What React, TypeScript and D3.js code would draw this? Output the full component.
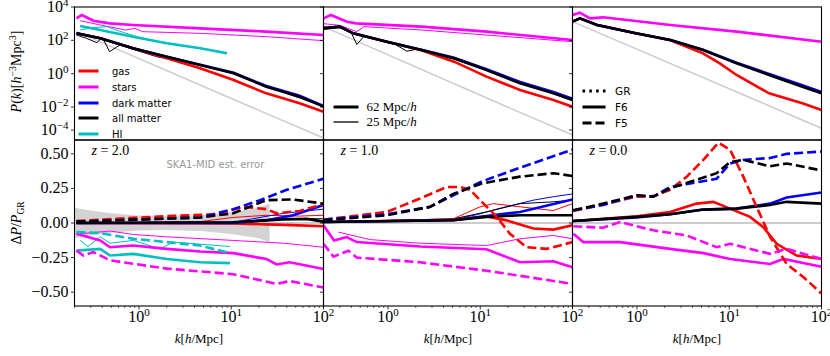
import React from 'react';
import * as d3 from 'd3';

// ---- layout ----
const W = 830;
const H = 356;
const panelLefts = [74.5, 323.5, 572.5];
const panelW = 249;
const topY = 7;
const midY = 140;
const botY = 306;

const RED = '#ff0000';
const MAG = '#ff00ff';
const BLUE = '#0000ff';
const BLACK = '#000000';
const CYAN = '#00bfbf';
const GREY = '#cccccc';

const serif = "'Liberation Serif', 'DejaVu Serif', serif";
const sans = "'DejaVu Sans', sans-serif";

// ---- top row: log10 P(k), pairs [k, log10 P] ----
const gasTopZ2 = [[0.21, 2.42], [0.38, 2.12], [0.86, 1.52], [2.0, 0.92], [4.6, 0.32], [10.6, -0.38], [24, -1.18], [55, -1.78], [100, -2.41]];
const dmTopZ2 = [[0.21, 2.42], [0.38, 2.12], [0.86, 1.52], [2.0, 1.02], [4.6, 0.54], [10.6, 0.05], [24, -0.74], [55, -1.33], [100, -1.93]];
const allTopZ2 = [[0.21, 2.42], [0.38, 2.12], [0.86, 1.52], [2.0, 1.02], [4.6, 0.52], [10.6, 0.02], [24, -0.78], [55, -1.38], [100, -1.98]];
const starsTopZ2 = [[0.21, 3.32], [0.24, 3.52], [0.32, 3.18], [0.48, 3.02], [0.86, 2.92], [4.6, 2.72], [24, 2.52], [100, 2.32]];
const hiTopZ2 = [[0.23, 2.86], [0.38, 2.62], [0.86, 2.22], [2.0, 1.82], [4.6, 1.52], [9.0, 1.22]];
const linTopZ2 = [[0.21, 2.52], [16.4, -2.0], [100, -4.7]];
const starsThinZ2 = [[0.23, 3.18], [0.38, 2.92], [0.72, 2.62], [0.9, 2.72], [1.1, 2.52], [4.6, 2.42], [24, 2.22], [100, 1.98]];
const allThinZ2 = [[0.21, 2.32], [0.27, 2.12], [0.35, 1.86], [0.4, 2.18], [0.48, 1.32], [0.62, 1.72], [0.86, 1.46], [1.6, 1.0], [3, 0.78], [5, 0.48], [10, 0.04], [24, -0.76], [100, -1.96]];
const hiThinZ2 = [[0.23, 2.62], [0.3, 2.75], [0.45, 2.82], [0.7, 2.45], [1.0, 2.18], [2.0, 1.84], [4.6, 1.53], [9, 1.23]];

const gasTopZ1 = [[0.2, 2.72], [0.3, 2.82], [0.42, 2.42], [0.97, 1.92], [2.3, 1.40], [5.2, 0.72], [11.7, -0.18], [27, -0.98], [62, -1.58], [100, -1.98]];
const dmTopZ1 = [[0.2, 2.72], [0.3, 2.82], [0.42, 2.42], [0.97, 1.92], [2.3, 1.44], [5.2, 0.95], [11.7, 0.27], [27, -0.5], [62, -1.1], [100, -1.5]];
const allTopZ1 = [[0.2, 2.72], [0.3, 2.82], [0.42, 2.42], [0.97, 1.92], [2.3, 1.42], [5.2, 0.92], [11.7, 0.22], [27, -0.58], [62, -1.18], [100, -1.58]];
const starsTopZ1 = [[0.2, 3.32], [0.24, 3.52], [0.36, 3.12], [0.45, 3.02], [2.3, 2.82], [11.7, 2.52], [100, 2.02]];
const linTopZ1 = [[0.2, 2.82], [19.7, -2.0], [100, -4.43]];
const starsThinZ1 = [[0.2, 3.0], [0.3, 2.9], [0.46, 2.52], [0.55, 2.82], [2.3, 2.62], [100, 1.92]];
const allThinZ1 = [[0.2, 2.8], [0.3, 2.75], [0.4, 2.45], [0.46, 1.75], [0.55, 2.25], [0.8, 2.0], [1.2, 1.75], [1.6, 1.35], [2.2, 1.5], [3, 1.2], [5, 0.9], [11.7, 0.2], [100, -1.6]];

const gasTopZ0 = [[0.2, 3.12], [0.24, 3.32], [0.37, 2.92], [0.97, 2.42], [2.3, 2.0], [5.2, 1.22], [7.9, 0.62], [12, -0.08], [27, -1.18], [62, -1.78], [100, -2.26]];
const dmTopZ0 = [[0.2, 3.12], [0.24, 3.32], [0.37, 2.92], [0.97, 2.42], [2.3, 2.02], [5.2, 1.44], [12, 0.66], [27, -0.02], [62, -0.7], [100, -1.1]];
const allTopZ0 = [[0.2, 3.12], [0.24, 3.32], [0.37, 2.92], [0.97, 2.42], [2.3, 2.02], [5.2, 1.42], [12, 0.62], [27, -0.08], [62, -0.78], [100, -1.18]];
const starsTopZ0 = [[0.2, 3.52], [0.24, 3.66], [0.31, 3.32], [0.43, 3.38], [2.3, 2.92], [12, 2.52], [100, 1.92]];
const linTopZ0 = [[0.2, 3.12], [29, -2.0], [100, -3.85]];

// ---- bottom row: ΔP/P_GR, pairs [k, ratio] ----
const ska1Error = [[0.2, 0.11], [0.3, 0.09], [0.5, 0.07], [1, 0.055], [2, 0.05], [5, 0.06], [10, 0.08], [20, 0.11], [26, 0.14]];

const dmF5Z2 = [[0.21, 0.01], [4.6, 0.04], [10.5, 0.10], [20.5, 0.165], [40, 0.24], [100, 0.32]];
const allF5Z2 = [[0.21, 0.01], [4.6, 0.04], [10.5, 0.07], [24, 0.165], [47, 0.17], [100, 0.14]];
const gasF5Z2 = [[0.21, 0.015], [2.0, 0.05], [7, 0.063], [13.5, 0.117], [24, 0.10], [31, 0.07], [55, 0.087], [100, 0.136]];
const dmF6Z2 = [[0.21, 0.0], [10.5, 0.0], [24, 0.02], [47, 0.056], [100, 0.13]];
const allF6Z2 = [[0.21, 0.0], [10.5, 0.005], [36.6, 0.025], [65.7, 0.03], [100, 0.01]];
const gasF6Z2 = [[0.21, 0.0], [10.5, -0.003], [24, -0.01], [55, -0.017], [100, -0.024]];
const dmThinZ2 = [[0.21, 0.0], [10.5, 0.005], [36.6, 0.07], [100, 0.10]];
const allThinBZ2 = [[0.21, 0.0], [10.5, 0.005], [36.6, 0.035], [100, 0.03]];
const gasThinZ2 = [[0.21, 0.0], [4.6, 0.01], [10.5, 0.04], [24, 0.056], [55, 0.05], [100, 0.056]];
const starsF6Z2 = [[0.21, -0.078], [0.38, -0.126], [0.485, -0.175], [0.867, -0.163], [2.0, -0.187], [4.6, -0.206], [10.5, -0.218], [24, -0.26], [31, -0.30], [43, -0.284], [100, -0.333]];
const starsThinBZ2 = [[0.21, -0.08], [0.485, -0.058], [0.867, -0.083], [2.0, -0.10], [10.5, -0.126], [36.6, -0.146], [100, -0.175]];
const starsF5Z2 = [[0.21, -0.2], [0.25, -0.235], [0.32, -0.21], [0.485, -0.27], [2.0, -0.33], [10.5, -0.37], [31, -0.44], [43, -0.42], [100, -0.466]];
const hiF6Z2 = [[0.21, -0.2], [0.38, -0.187], [0.485, -0.235], [0.867, -0.223], [2.0, -0.26], [4.6, -0.284], [9.7, -0.29]];
const hiThinBZ2 = [[0.23, -0.126], [0.28, -0.17], [0.38, -0.10], [0.485, -0.146], [0.867, -0.126], [1.69, -0.187], [2.36, -0.138], [9.7, -0.17]];
const hiF5Z2 = [[0.21, -0.066], [0.38, -0.073], [0.867, -0.114], [2.0, -0.138], [4.6, -0.163], [9.7, -0.218]];

const dmF5Z1 = [[0.2, 0.024], [0.97, 0.063], [2.85, 0.117], [5.1, 0.2], [10.4, 0.3], [27, 0.40], [100, 0.53]];
const allF5Z1 = [[0.2, 0.02], [0.97, 0.056], [2.85, 0.116], [5.1, 0.21], [10.4, 0.286], [27, 0.335], [62, 0.36], [100, 0.34]];
const gasF5Z1 = [[0.2, 0.024], [0.97, 0.08], [2.22, 0.177], [4.32, 0.26], [6.03, 0.26], [7.74, 0.24], [10.4, 0.153], [15.1, 0.044], [21, -0.078], [31.8, -0.175], [52.5, -0.187], [100, -0.138]];
const dmF6Z1 = [[0.2, 0.007], [5.1, 0.02], [11.7, 0.05], [27, 0.08], [100, 0.17]];
const dmThinZ1 = [[0.2, 0.007], [5.1, 0.025], [9.15, 0.06], [15, 0.10], [37.6, 0.165], [62, 0.19], [100, 0.21]];
const allF6Z1 = [[0.2, 0.007], [5.1, 0.02], [11.7, 0.044], [27, 0.056], [100, 0.056]];
const allThinBZ1 = [[0.2, 0.007], [5.1, 0.03], [11.7, 0.08], [27, 0.14], [62, 0.153], [100, 0.165]];
const gasF6Z1 = [[0.2, 0.007], [5.1, 0.024], [11.7, 0.048], [19.3, 0.019], [37.6, -0.04], [62, -0.048], [100, -0.017]];
const gasThinZ1 = [[0.2, 0.007], [5.1, 0.03], [9.94, 0.117], [13.9, 0.14], [27, 0.117], [62, 0.09], [100, 0.14]];
const starsF6Z1 = [[0.2, -0.017], [0.26, -0.126], [0.356, -0.102], [0.458, -0.138], [2.22, -0.17], [11.7, -0.19], [27, -0.284], [62, -0.277], [100, -0.32]];
const starsThinBZ1 = [[0.29, -0.066], [0.64, -0.12], [2.22, -0.146], [11.7, -0.163], [27, -0.114], [62, -0.09], [100, -0.114]];
const starsF5Z1 = [[0.2, -0.15], [0.256, -0.243], [0.372, -0.2], [0.458, -0.25], [2.22, -0.284], [11.7, -0.345], [100, -0.44]];

const gasF5Z0 = [[0.204, 0.087], [0.99, 0.19], [1.5, 0.194], [2.28, 0.24], [3.46, 0.335], [5.24, 0.456], [7.62, 0.58], [10.2, 0.53], [14.2, 0.335], [19.8, 0.117], [27.7, -0.10], [41.9, -0.296], [63.5, -0.39], [100, -0.51]];
const dmF5Z0 = [[0.204, 0.092], [0.43, 0.13], [0.99, 0.2], [1.5, 0.19], [2.28, 0.26], [7.3, 0.32], [10.2, 0.43], [14.2, 0.456], [27.7, 0.47], [41.9, 0.5], [100, 0.517]];
const allF5Z0 = [[0.204, 0.092], [0.43, 0.14], [0.99, 0.2], [1.5, 0.19], [2.28, 0.25], [7.3, 0.36], [10.2, 0.44], [14.2, 0.456], [27.7, 0.41], [41.9, 0.43], [100, 0.38]];
const dmF6Z0 = [[0.204, 0.015], [0.99, 0.04], [2.28, 0.063], [5.24, 0.097], [12, 0.104], [27.7, 0.14], [41.9, 0.185], [100, 0.22]];
const allF6Z0 = [[0.204, 0.015], [0.99, 0.044], [2.28, 0.063], [5.24, 0.097], [12, 0.104], [27.7, 0.13], [41.9, 0.153], [100, 0.14]];
const gasF6Z0 = [[0.204, 0.015], [0.99, 0.048], [2.28, 0.08], [4.43, 0.14], [6.72, 0.153], [10.2, 0.104], [16.8, 0.044], [23.4, -0.03], [32.7, -0.15], [53.8, -0.235], [100, -0.26]];
const starsF5Z0 = [[0.204, -0.024], [0.43, -0.034], [0.655, 0.007], [1.5, -0.053], [3.46, -0.09], [7.3, -0.175], [10.2, -0.15], [27.7, -0.223], [41.9, -0.187], [100, -0.26]];
const starsF6Z0 = [[0.204, -0.078], [0.262, -0.138], [0.655, -0.138], [2.28, -0.187], [5.24, -0.218], [10.2, -0.26], [27.7, -0.296], [38.6, -0.26], [100, -0.316]];

const redshiftLabels = ['2.0', '1.0', '0.0'];
const topTickExps = [4, 2, 0, -2, -4];
const botTicks = [0.5, 0.25, 0, -0.25, -0.5];
const xMajor = [1, 10, 100];
const legendComponents = ['gas', 'stars', 'dark matter', 'all matter', 'HI'];
const legendColors = [RED, MAG, BLUE, BLACK, CYAN];
const boxLabels = ['62', '25'];
const modelLabels = ['GR', 'F6', 'F5'];

type S = { d: number[][]; c: string; w: number; dash?: string };
const TH = 2.6;
const TN = 1;
const DASH = '9,4';
const DOT = '2.6,4.2';

const topSeries: S[][] = [
  [
    { d: linTopZ2, c: GREY, w: 1.5 },
    { d: starsThinZ2, c: MAG, w: TN },
    { d: allThinZ2, c: BLACK, w: TN },
    { d: hiThinZ2, c: CYAN, w: TN },
    { d: gasTopZ2, c: RED, w: TH },
    { d: starsTopZ2, c: MAG, w: TH },
    { d: dmTopZ2, c: BLUE, w: TH },
    { d: allTopZ2, c: BLACK, w: TH },
    { d: hiTopZ2, c: CYAN, w: TH },
  ],
  [
    { d: linTopZ1, c: GREY, w: 1.5 },
    { d: starsThinZ1, c: MAG, w: TN },
    { d: allThinZ1, c: BLACK, w: TN },
    { d: gasTopZ1, c: RED, w: TH },
    { d: starsTopZ1, c: MAG, w: TH },
    { d: dmTopZ1, c: BLUE, w: TH },
    { d: allTopZ1, c: BLACK, w: TH },
  ],
  [
    { d: linTopZ0, c: GREY, w: 1.5 },
    { d: gasTopZ0, c: RED, w: TH },
    { d: starsTopZ0, c: MAG, w: TH },
    { d: dmTopZ0, c: BLUE, w: TH },
    { d: allTopZ0, c: BLACK, w: TH },
  ],
];

const botSeries: S[][] = [
  [
    { d: gasThinZ2, c: RED, w: TN },
    { d: dmThinZ2, c: BLUE, w: TN },
    { d: allThinBZ2, c: BLACK, w: TN },
    { d: starsThinBZ2, c: MAG, w: TN },
    { d: hiThinBZ2, c: CYAN, w: TN },
    { d: gasF6Z2, c: RED, w: TH },
    { d: starsF6Z2, c: MAG, w: TH },
    { d: dmF6Z2, c: BLUE, w: TH },
    { d: allF6Z2, c: BLACK, w: TH },
    { d: hiF6Z2, c: CYAN, w: TH },
    { d: gasF5Z2, c: RED, w: TH, dash: DASH },
    { d: starsF5Z2, c: MAG, w: TH, dash: DASH },
    { d: dmF5Z2, c: BLUE, w: TH, dash: DASH },
    { d: allF5Z2, c: BLACK, w: TH, dash: DASH },
    { d: hiF5Z2, c: CYAN, w: TH, dash: DASH },
  ],
  [
    { d: gasThinZ1, c: RED, w: TN },
    { d: dmThinZ1, c: BLUE, w: TN },
    { d: allThinBZ1, c: BLACK, w: TN },
    { d: starsThinBZ1, c: MAG, w: TN },
    { d: gasF6Z1, c: RED, w: TH },
    { d: starsF6Z1, c: MAG, w: TH },
    { d: dmF6Z1, c: BLUE, w: TH },
    { d: allF6Z1, c: BLACK, w: TH },
    { d: gasF5Z1, c: RED, w: TH, dash: DASH },
    { d: starsF5Z1, c: MAG, w: TH, dash: DASH },
    { d: dmF5Z1, c: BLUE, w: TH, dash: DASH },
    { d: allF5Z1, c: BLACK, w: TH, dash: DASH },
  ],
  [
    { d: gasF6Z0, c: RED, w: TH },
    { d: starsF6Z0, c: MAG, w: TH },
    { d: dmF6Z0, c: BLUE, w: TH },
    { d: allF6Z0, c: BLACK, w: TH },
    { d: gasF5Z0, c: RED, w: TH, dash: DASH },
    { d: starsF5Z0, c: MAG, w: TH, dash: DASH },
    { d: dmF5Z0, c: BLUE, w: TH, dash: DASH },
    { d: allF5Z0, c: BLACK, w: TH, dash: DASH },
  ],
];

const x = d3.scaleLog().domain([0.2, 100]).range([0, panelW]);
// log10 P -> px; matches the uneven spacing of the reference labels
const yTop = d3.scaleLinear().domain([4, -2, -4]).range([0, 100, 123]);
const yBot = d3.scaleLinear().domain([-0.6, 0.6]).range([botY - midY, 0]);

const minorTicks = d3.range(-1, 2).flatMap(e => d3.range(2, 10).map(m => m * Math.pow(10, e))).filter(k => k >= 0.2 && k <= 100);

const fmt = (v: number) => v.toFixed(2).replace('-', '\u2212');
const sup = (e: number) => (e < 0 ? '\u2212' + -e : String(e));

function Panel({ i }: { i: number }) {
  const left = panelLefts[i];
  const lineTop = d3.line<number[]>().x(d => x(d[0])).y(d => yTop(d[1]));
  const lineBot = d3.line<number[]>().x(d => x(d[0])).y(d => yBot(d[1]));
  const band = d3.area<number[]>().x(d => x(d[0])).y0(d => yBot(-d[1])).y1(d => yBot(d[1]));
  const hTop = midY - topY;
  const hBot = botY - midY;
  return (
    <g>
      <defs>
        <clipPath id={`ct${i}`}><rect width={panelW} height={hTop} /></clipPath>
        <clipPath id={`cb${i}`}><rect width={panelW} height={hBot} /></clipPath>
      </defs>
      {/* top panel */}
      <g transform={`translate(${left},${topY})`}>
        <g clipPath={`url(#ct${i})`}>
          {topSeries[i].map((s, j) => (
            <path key={j} d={lineTop(s.d) || ''} fill="none" stroke={s.c} strokeWidth={s.w} strokeDasharray={s.dash} />
          ))}
        </g>
        {topTickExps.map(e => (
          <g key={e} transform={`translate(0,${yTop(e)})`}>
            <line x1={-3.5} x2={0} stroke="#000" strokeWidth={0.8} />
            {i === 0 && (
              <text x={-6} y={5} textAnchor="end" fontFamily={serif} fontSize={16}>
                10<tspan dy={-6} fontSize={11}>{sup(e)}</tspan>
              </text>
            )}
          </g>
        ))}
        <rect width={panelW} height={hTop} fill="none" stroke="#000" strokeWidth={1.1} />
      </g>
      {/* bottom panel */}
      <g transform={`translate(${left},${midY})`}>
        <g clipPath={`url(#cb${i})`}>
          <line x1={x.range()[0]} x2={x.range()[1]} y1={yBot(0)} y2={yBot(0)} stroke={GREY} strokeWidth={2} />
          {i === 0 && <path d={band(ska1Error) || ''} fill="#d3d3d3" />}
          {botSeries[i].map((s, j) => (
            <path key={j} d={lineBot(s.d) || ''} fill="none" stroke={s.c} strokeWidth={s.w} strokeDasharray={s.dash} />
          ))}
        </g>
        {botTicks.map(v => (
          <g key={v} transform={`translate(0,${yBot(v)})`}>
            <line x1={-3.5} x2={0} stroke="#000" strokeWidth={0.8} />
            {i === 0 && (
              <text x={-6} y={5} textAnchor="end" fontFamily={serif} fontSize={16}>{fmt(v)}</text>
            )}
          </g>
        ))}
        {minorTicks.map(k => (
          <line key={k} x1={x(k)} x2={x(k)} y1={hBot} y2={hBot + 2} stroke="#000" strokeWidth={0.6} />
        ))}
        {xMajor.map((k, j) => (
          <g key={k} transform={`translate(${x(k)},${hBot})`}>
            <line y1={0} y2={3.5} stroke="#000" strokeWidth={0.8} />
            <text y={16} textAnchor="middle" fontFamily={serif} fontSize={16}>
              10<tspan dy={-6.5} fontSize={11}>{j}</tspan>
            </text>
          </g>
        ))}
        <rect width={panelW} height={hBot} fill="none" stroke="#000" strokeWidth={1.1} />
        <text x={17} y={15} fontFamily={serif} fontSize={14}>
          <tspan fontStyle="italic">z</tspan> = {redshiftLabels[i]}
        </text>
        {i === 0 && (
          <text x={92} y={28} fontFamily={sans} fontSize={10} fill="#999999">SKA1-MID est. error</text>
        )}
        <text x={panelW / 2} y={hBot + 37} textAnchor="middle" fontFamily={serif} fontSize={13}>
          <tspan fontStyle="italic">k</tspan>[<tspan fontStyle="italic">h</tspan>/Mpc]
        </text>
      </g>
    </g>
  );
}

function Legends() {
  const l0 = panelLefts[0];
  const l1 = panelLefts[1];
  const l2 = panelLefts[2];
  const yComp = [71, 87, 103, 118, 134];
  const yBox = [107, 122];
  const yModel = [91, 107, 123];
  const modelDash = [DOT, undefined, DASH];
  return (
    <g>
      {legendComponents.map((name, j) => (
        <g key={name}>
          <line x1={l0 + 4} x2={l0 + 24} y1={yComp[j]} y2={yComp[j]} stroke={legendColors[j]} strokeWidth={3} />
          <text x={l0 + 37.5} y={yComp[j] + 3.5} fontFamily={sans} fontSize={10}>{name}</text>
        </g>
      ))}
      {boxLabels.map((b, j) => (
        <g key={b}>
          <line x1={l1 + 10} x2={l1 + 35} y1={yBox[j]} y2={yBox[j]} stroke="#000" strokeWidth={j === 0 ? 3 : 1.3} />
          <text x={l1 + 43} y={yBox[j] + 4} fontFamily={serif} fontSize={13}>
            {b} Mpc/<tspan fontStyle="italic">h</tspan>
          </text>
        </g>
      ))}
      {modelLabels.map((m, j) => (
        <g key={m}>
          <line x1={l2 + 10} x2={l2 + 33} y1={yModel[j]} y2={yModel[j]} stroke="#000" strokeWidth={3} strokeDasharray={modelDash[j]} />
          <text x={l2 + 42.5} y={yModel[j] + 3.8} fontFamily={sans} fontSize={10.5}>{m}</text>
        </g>
      ))}
    </g>
  );
}

export default function App() {
  return (
    <div style={{ position: 'fixed', left: 0, top: 0, width: W, height: H, background: '#fff' }}>
      <svg width={W} height={H} viewBox={`0 0 ${W} ${H}`} style={{ display: 'block' }}>
        <rect width={W} height={H} fill="#fff" />
        {[0, 1, 2].map(i => <Panel key={i} i={i} />)}
        <Legends />
        <text transform={`translate(21,${(topY + midY) / 2 - 2}) rotate(-90)`} textAnchor="middle" fontFamily={serif} fontSize={14}>
          <tspan fontStyle="italic">P</tspan>(<tspan fontStyle="italic">k</tspan>)[<tspan fontStyle="italic">h</tspan>
          <tspan dy={-5} fontSize={10}>{'\u22123'}</tspan>
          <tspan dy={5}>Mpc</tspan>
          <tspan dy={-5} fontSize={10}>3</tspan>
          <tspan dy={5}>]</tspan>
        </text>
        <text transform={`translate(21,${yBot(0) + midY}) rotate(-90)`} textAnchor="middle" fontFamily={serif} fontSize={14}>
          {'\u0394'}<tspan fontStyle="italic">P</tspan>/<tspan fontStyle="italic">P</tspan>
          <tspan dy={3} fontSize={9.5}>GR</tspan>
        </text>
      </svg>
    </div>
  );
}
